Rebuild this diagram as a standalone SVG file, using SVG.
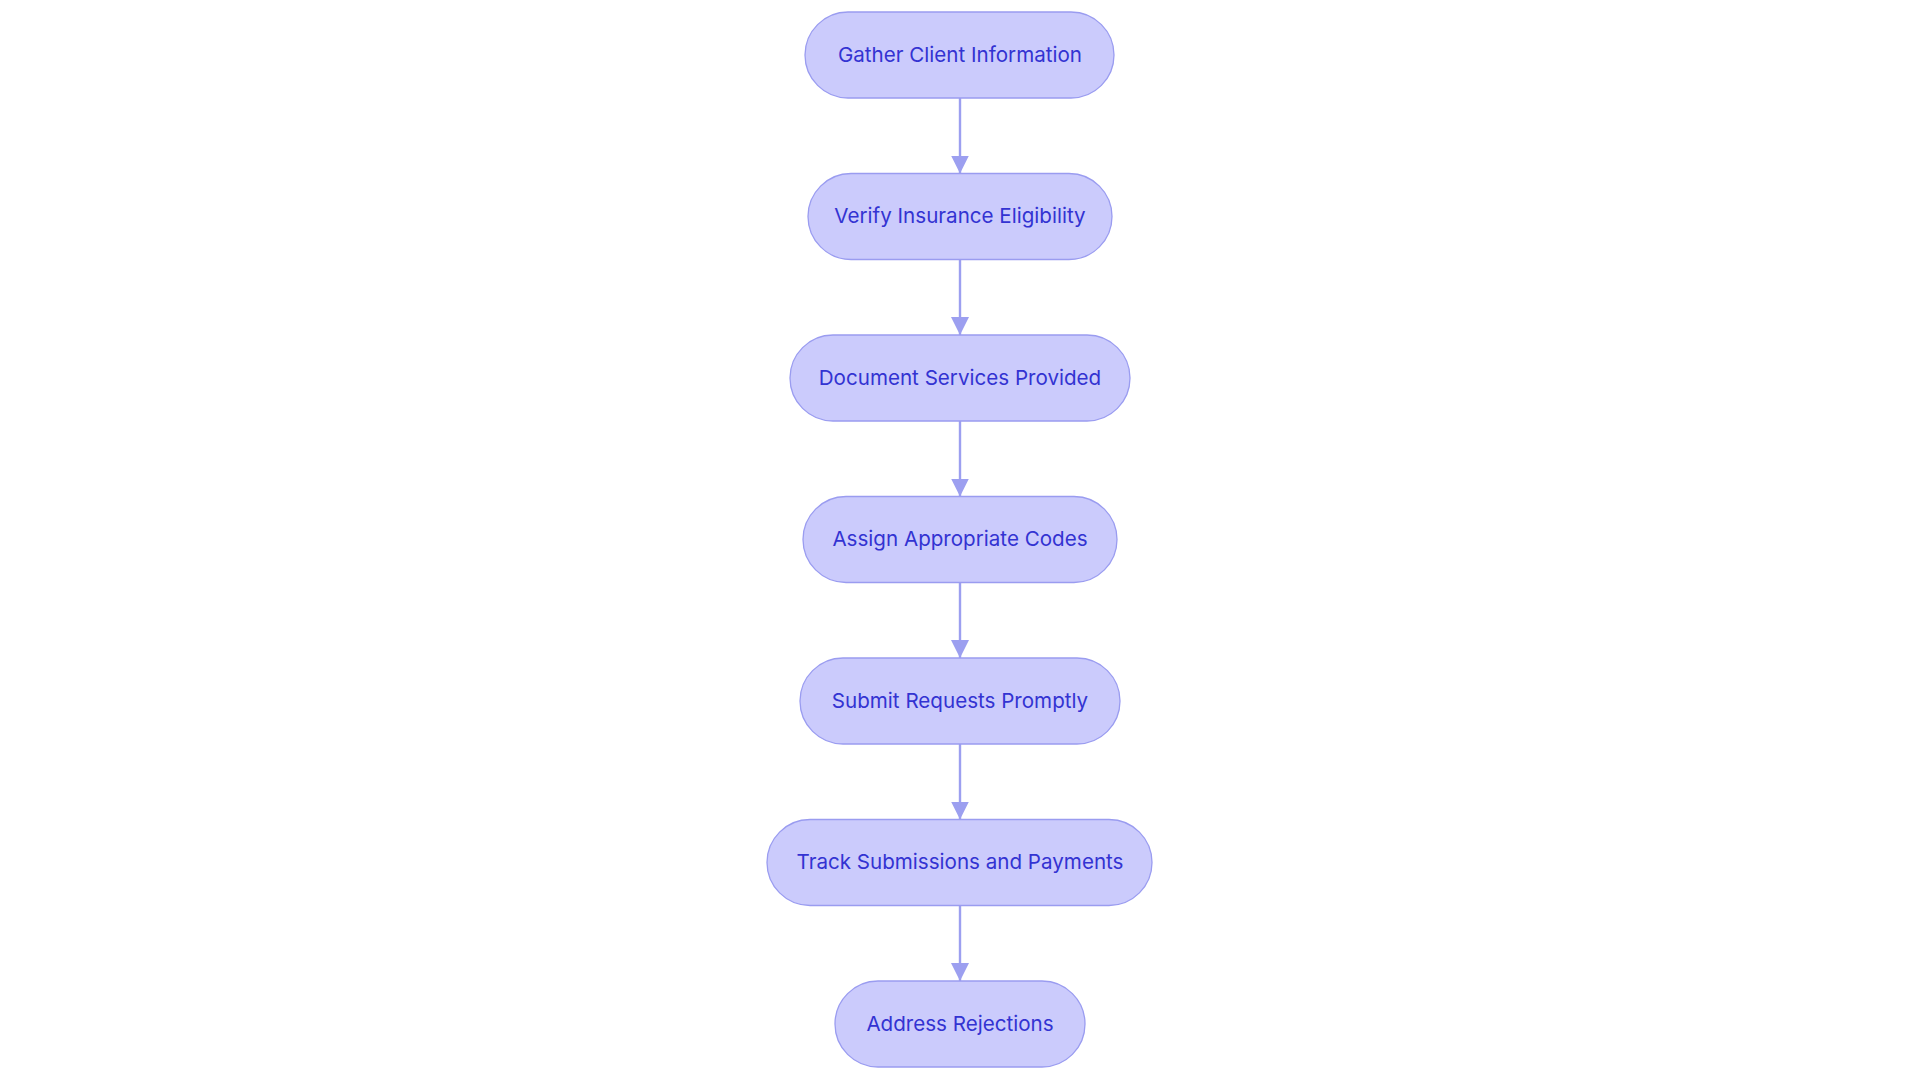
<svg xmlns="http://www.w3.org/2000/svg" width="1920" height="1083" viewBox="0 0 1920 1083">
<defs>
<style>
.node rect{fill:#CBCBFC;stroke:#9A9CF0;stroke-width:1.3}
.node text{font-family:Inter,"Noto Sans",sans-serif;font-size:20.6px;fill:#3333D2;text-anchor:middle;dominant-baseline:central}
.edge{stroke:#9C9FF0;stroke-width:2.4;fill:none}
</style>
<marker id="arr" viewBox="0 0 18 18" refX="18" refY="9" markerWidth="18" markerHeight="18" markerUnits="userSpaceOnUse" orient="auto">
<path d="M0,0 L18,9 L0,18 Z" fill="#9C9FF0"/>
</marker>
</defs>
<rect width="1920" height="1083" fill="#FFFFFF"/>
<g id="connectors">
<line class="edge" x1="960" y1="98" x2="960" y2="173.5" marker-end="url(#arr)"/>
<line class="edge" x1="960" y1="259.5" x2="960" y2="335" marker-end="url(#arr)"/>
<line class="edge" x1="960" y1="421" x2="960" y2="496.5" marker-end="url(#arr)"/>
<line class="edge" x1="960" y1="582.5" x2="960" y2="658" marker-end="url(#arr)"/>
<line class="edge" x1="960" y1="744" x2="960" y2="819.5" marker-end="url(#arr)"/>
<line class="edge" x1="960" y1="905.5" x2="960" y2="981" marker-end="url(#arr)"/>
</g>
<g id="n1" class="node"><rect x="805" y="12" width="309" height="86" rx="43"/><text x="960" y="54">Gather Client Information</text></g>
<g id="n2" class="node"><rect x="808" y="173.5" width="304" height="86" rx="43"/><text x="960" y="215.5">Verify Insurance Eligibility</text></g>
<g id="n3" class="node"><rect x="790" y="335" width="340" height="86" rx="43"/><text x="960" y="377">Document Services Provided</text></g>
<g id="n4" class="node"><rect x="803" y="496.5" width="314" height="86" rx="43"/><text x="960" y="538.5">Assign Appropriate Codes</text></g>
<g id="n5" class="node"><rect x="800" y="658" width="320" height="86" rx="43"/><text x="960" y="700">Submit Requests Promptly</text></g>
<g id="n6" class="node"><rect x="767" y="819.5" width="385" height="86" rx="43"/><text x="960" y="861.5">Track Submissions and Payments</text></g>
<g id="n7" class="node"><rect x="835" y="981" width="250" height="86" rx="43"/><text x="960" y="1023">Address Rejections</text></g>
</svg>
